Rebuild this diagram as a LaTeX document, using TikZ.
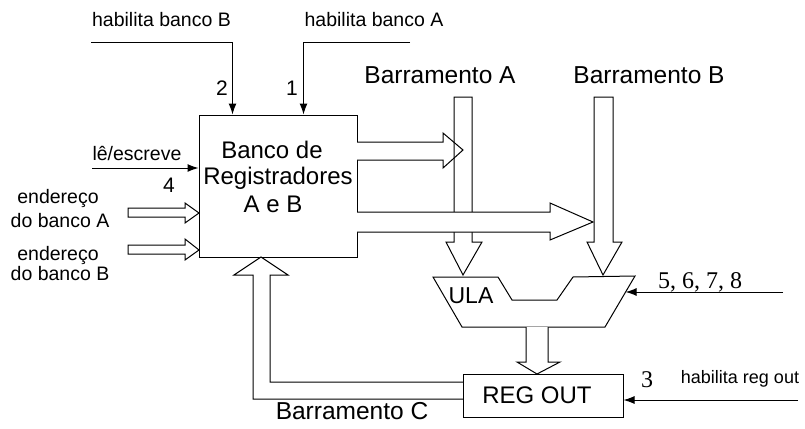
\documentclass[tikz,border=0pt]{standalone}
\usepackage{fontspec}
\setmainfont{Liberation Sans}
\newfontfamily\seriffont{Liberation Serif}
\usetikzlibrary{arrows.meta,calc}
\begin{document}
\begin{tikzpicture}[x=1pt,y=-1pt,line width=1pt,
  lbl/.style={inner sep=0pt,anchor=base,font=\fontsize{19.5}{22}\selectfont},
  big/.style={inner sep=0pt,anchor=base,font=\fontsize{24}{27}\selectfont},
  num/.style={inner sep=0pt,anchor=base,font=\fontsize{21}{24}\selectfont},
  sernum/.style={inner sep=0pt,anchor=base,font=\seriffont\fontsize{24}{27}\selectfont},
  box/.style={draw,inner sep=0pt},
  sig/.style={-{Latex[length=11pt,width=8pt]}},
  bus/.style={draw,fill=white,line join=miter}]

\useasboundingbox (0,0) rectangle (805,428);
\fill[white] (0,0) rectangle (805,428);

% main boxes
\node[box,minimum width=158pt,minimum height=142pt] (bank) at (278,186) {};
\node[big] (bt1) at (272,158) {Banco de};
\node[big] (bt2) at (278,184) {Registradores};
\node[big] (bt3) at (273,212) {A e B};

\node[box,minimum width=160pt,minimum height=43pt] (rego) at (543,395.5) {};
\node[big] (regotxt) at (537,403) {REG OUT};

% ULA
\coordinate (ulaTL) at (433,277);
\coordinate (ulaTR) at (635,276);
\coordinate (ulaBR) at (605,327);
\coordinate (ulaBL) at (462,327);
\coordinate (ulaR) at (625.6,292);
\draw[line join=miter] (ulaTL) -- (498,277) -- (512,300) -- (557,300) -- (573,277) -- (ulaTR) -- (ulaBR) -- (ulaBL) -- cycle;
\node[inner sep=0pt,anchor=base,font=\fontsize{23}{26}\selectfont] (ula) at (471,303) {ULA};

% wide buses
% bank -> bus A
\draw[bus] (357,142) -- (443,142) -- (443,133) -- (463,150) -- (443,168) -- (443,160) -- (357,160);
% bus A
\draw[line join=miter] (454,97) -- (472,97) -- (472,242) -- (482,242) -- (463,275) -- (446,242) -- (454,242) -- cycle;
% bus B
\draw[bus] (594,97) -- (613,97) -- (613,242) -- (622,242) -- (603,275) -- (587,242) -- (594,242) -- cycle;
% bank -> bus B
\draw[bus] (357,212) -- (550,212) -- (550,203) -- (593,222) -- (550,240) -- (550,232) -- (357,232);
% address inputs
\draw[bus] (128,208) -- (185,208) -- (185,203) -- (199,213) -- (185,223) -- (185,217) -- (128,217) -- cycle;
\draw[bus] (128,245) -- (185,245) -- (185,239) -- (199,250) -- (185,260) -- (185,254) -- (128,254) -- cycle;
% ULA -> REG OUT
\draw[bus] (526,327) -- (526,362) -- (517,362) -- (537,374) -- (560,362) -- (548,362) -- (548,327);
% Barramento C
\draw[line join=miter] (463,399) -- (253,399) -- (253,275) -- (234,275) -- (261,257) -- (288,275) -- (270,275) -- (270,382) -- (463,382);

% control signals
\coordinate (hbBs) at (91,43);
\draw[sig] (hbBs) -| ($(bank.north west)+(34,0)$);
\coordinate (hbAs) at (410,43);
\draw[sig] (hbAs) -| ($(bank.north west)+(105,0)$);
\coordinate (les) at (92,168);
\draw[sig] (les) -- (les -| bank.west);
\coordinate (ctrlS) at (783,292);
\draw[sig] (ctrlS) -- (ulaR);
\coordinate (hroS) at (798,400);
\draw[sig] (hroS) -- (hroS -| rego.east);

% labels
\node[lbl] (hbB) at (161.5,27) {habilita banco B};
\node[lbl] (hbA) at (374,27) {habilita banco A};
\node[num] (n2) at (222,95) {2};
\node[num] (n1) at (292,95) {1};
\node[big,font=\fontsize{24.5}{27}\selectfont] (barA) at (440,83) {Barramento A};
\node[big,font=\fontsize{24.5}{27}\selectfont] (barB) at (649,83) {Barramento B};
\node[lbl] (le) at (137,160) {lê/escreve};
\node[num] (n4) at (169,192) {4};
\node[lbl] (endA1) at (58,203) {endereço};
\node[lbl] (endA2) at (60,227) {do banco A};
\node[lbl] (endB1) at (58,260) {endereço};
\node[lbl] (endB2) at (60,280) {do banco B};
\node[sernum] (ctrl) at (700,288) {5, 6, 7, 8};
\node[sernum] (n3) at (647,387) {3};
\node[lbl,font=\fontsize{18}{21}\selectfont] (hro) at (740,383) {habilita reg out};
\node[big,font=\fontsize{24.5}{27}\selectfont] (barC) at (352,419) {Barramento C};
\end{tikzpicture}
\end{document}
